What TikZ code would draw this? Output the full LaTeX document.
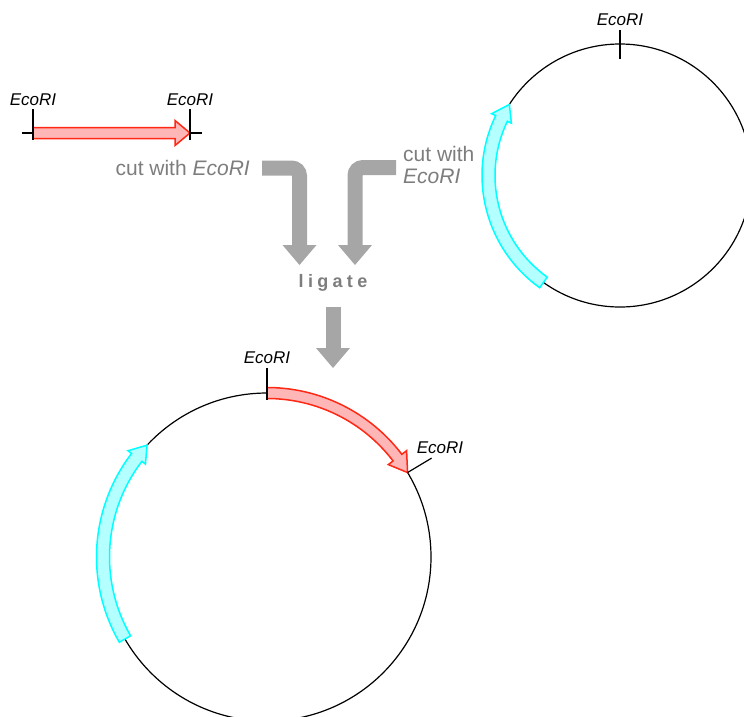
\documentclass[tikz,border=0pt]{standalone}
\usepackage{fontspec}
\setmainfont{Liberation Sans}
\usepackage{xcolor}
\usetikzlibrary{arrows.meta, positioning}
\definecolor{insred}{RGB}{255,40,20}
\definecolor{inspink}{RGB}{255,182,182}
\definecolor{vecstroke}{RGB}{0,255,255}
\definecolor{vecfill}{RGB}{180,255,255}
\definecolor{stepgray}{RGB}{166,166,166}
\definecolor{textgray}{RGB}{125,125,125}

% curved gene arrow: style, radius, start, head base, tip, shaft half width, head half width
\newcommand{\genearc}[7]{%
  \draw[#1] ({#3}:{#2+#6}) arc[start angle=#3, end angle=#4, radius={#2+#6}]
    -- ({#4}:{#2+#7}) -- ({#5}:{#2}) -- ({#4}:{#2-#7}) -- ({#4}:{#2-#6})
    arc[start angle=#4, end angle=#3, radius={#2-#6}] -- cycle;}

\begin{document}
\begin{tikzpicture}[x=1pt, y=1pt,
  every node/.style={inner sep=0pt},
  plasmid/.style={draw=black, line width=1.2pt},
  site/.style={draw=black, line width=1.2pt},
  sitelabel/.style={font=\fontsize{17}{20}\selectfont\itshape},
  cutlabel/.style={font=\fontsize{21}{22}\selectfont, text=textgray, align=left},
  insert/.style={draw=insred, fill=inspink, line width=1.5pt, line join=miter},
  marker/.style={draw=vecstroke, fill=vecfill, line width=1.5pt, line join=miter},
  fatarrow/.style={draw=stepgray, line width=15pt, rounded corners=8pt,
                   -{Triangle[length=20pt, width=34pt, line width=0pt]}},
]
\useasboundingbox (0,0) rectangle (744,-716);

% linear insert
\draw[site] (22,-133) -- (202,-133);
\draw[insert] (33,-127.5) -- (175,-127.5) -- (175,-120.5) -- (190,-133)
  -- (175,-145.5) -- (175,-138.5) -- (33,-138.5) -- cycle;
\coordinate (insA) at (33,-109);
\coordinate (insB) at (190,-109);
\draw[site] (insA) -- ++(0,-31);
\draw[site] (insB) -- ++(0,-31);
\node[sitelabel, above=3pt of insA] (ecoA) {EcoRI};
\node[sitelabel, above=3pt of insB] (ecoB) {EcoRI};

% steps
\node[cutlabel, anchor=east] (cutIns) at (250,-168) {cut with \textit{EcoRI}};
\node[cutlabel, anchor=west] (cutVec) at (403,-165) {cut with\\\textit{EcoRI}};
\node[font=\fontsize{18}{20}\selectfont\bfseries\addfontfeature{LetterSpace=24},
      text=textgray] (ligate) at (333,-283) {ligate};
\coordinate (ligIn)  at (299.5,-265);
\coordinate (ligVec) at (355,-265);
\coordinate (recTop) at (333,-368);
\draw[fatarrow] ([xshift=12pt]cutIns.east) -| (ligIn);
\draw[fatarrow] ([xshift=-7pt,yshift=-2.5pt]cutVec.west) -| (ligVec);
\draw[fatarrow] ([yshift=-15pt]ligate.south) -- (recTop);

% vector
\begin{scope}[shift={(620,-175.5)}]
\draw[plasmid] (0,0) circle[radius=131.5];
\genearc{marker}{131.5}{234.4}{154.3}{147.3}{6.5}{11}
\draw[site] (90:116.5) -- (90:145.5) coordinate (vecSite);
\end{scope}
\node[sitelabel, above=4pt of vecSite] (ecoVec) {EcoRI};

% recombinant plasmid
\begin{scope}[shift={(267,-557)}]
\draw[plasmid] (0,0) circle[radius=164];
\genearc{marker}{164}{210}{142.6}{137}{6.5}{11}
\genearc{insert}{164}{90}{37.3}{31}{5.5}{11.5}
\draw[site] (90:157) -- (90:189) coordinate (recSiteA);
\draw[site] (31:164) -- (31:192) coordinate (recSiteB);
\end{scope}
\node[sitelabel, above=4pt of recSiteA] (ecoRecA) {EcoRI};
\node[sitelabel] (ecoRecB) at (440,-448) {EcoRI};

\end{tikzpicture}
\end{document}
